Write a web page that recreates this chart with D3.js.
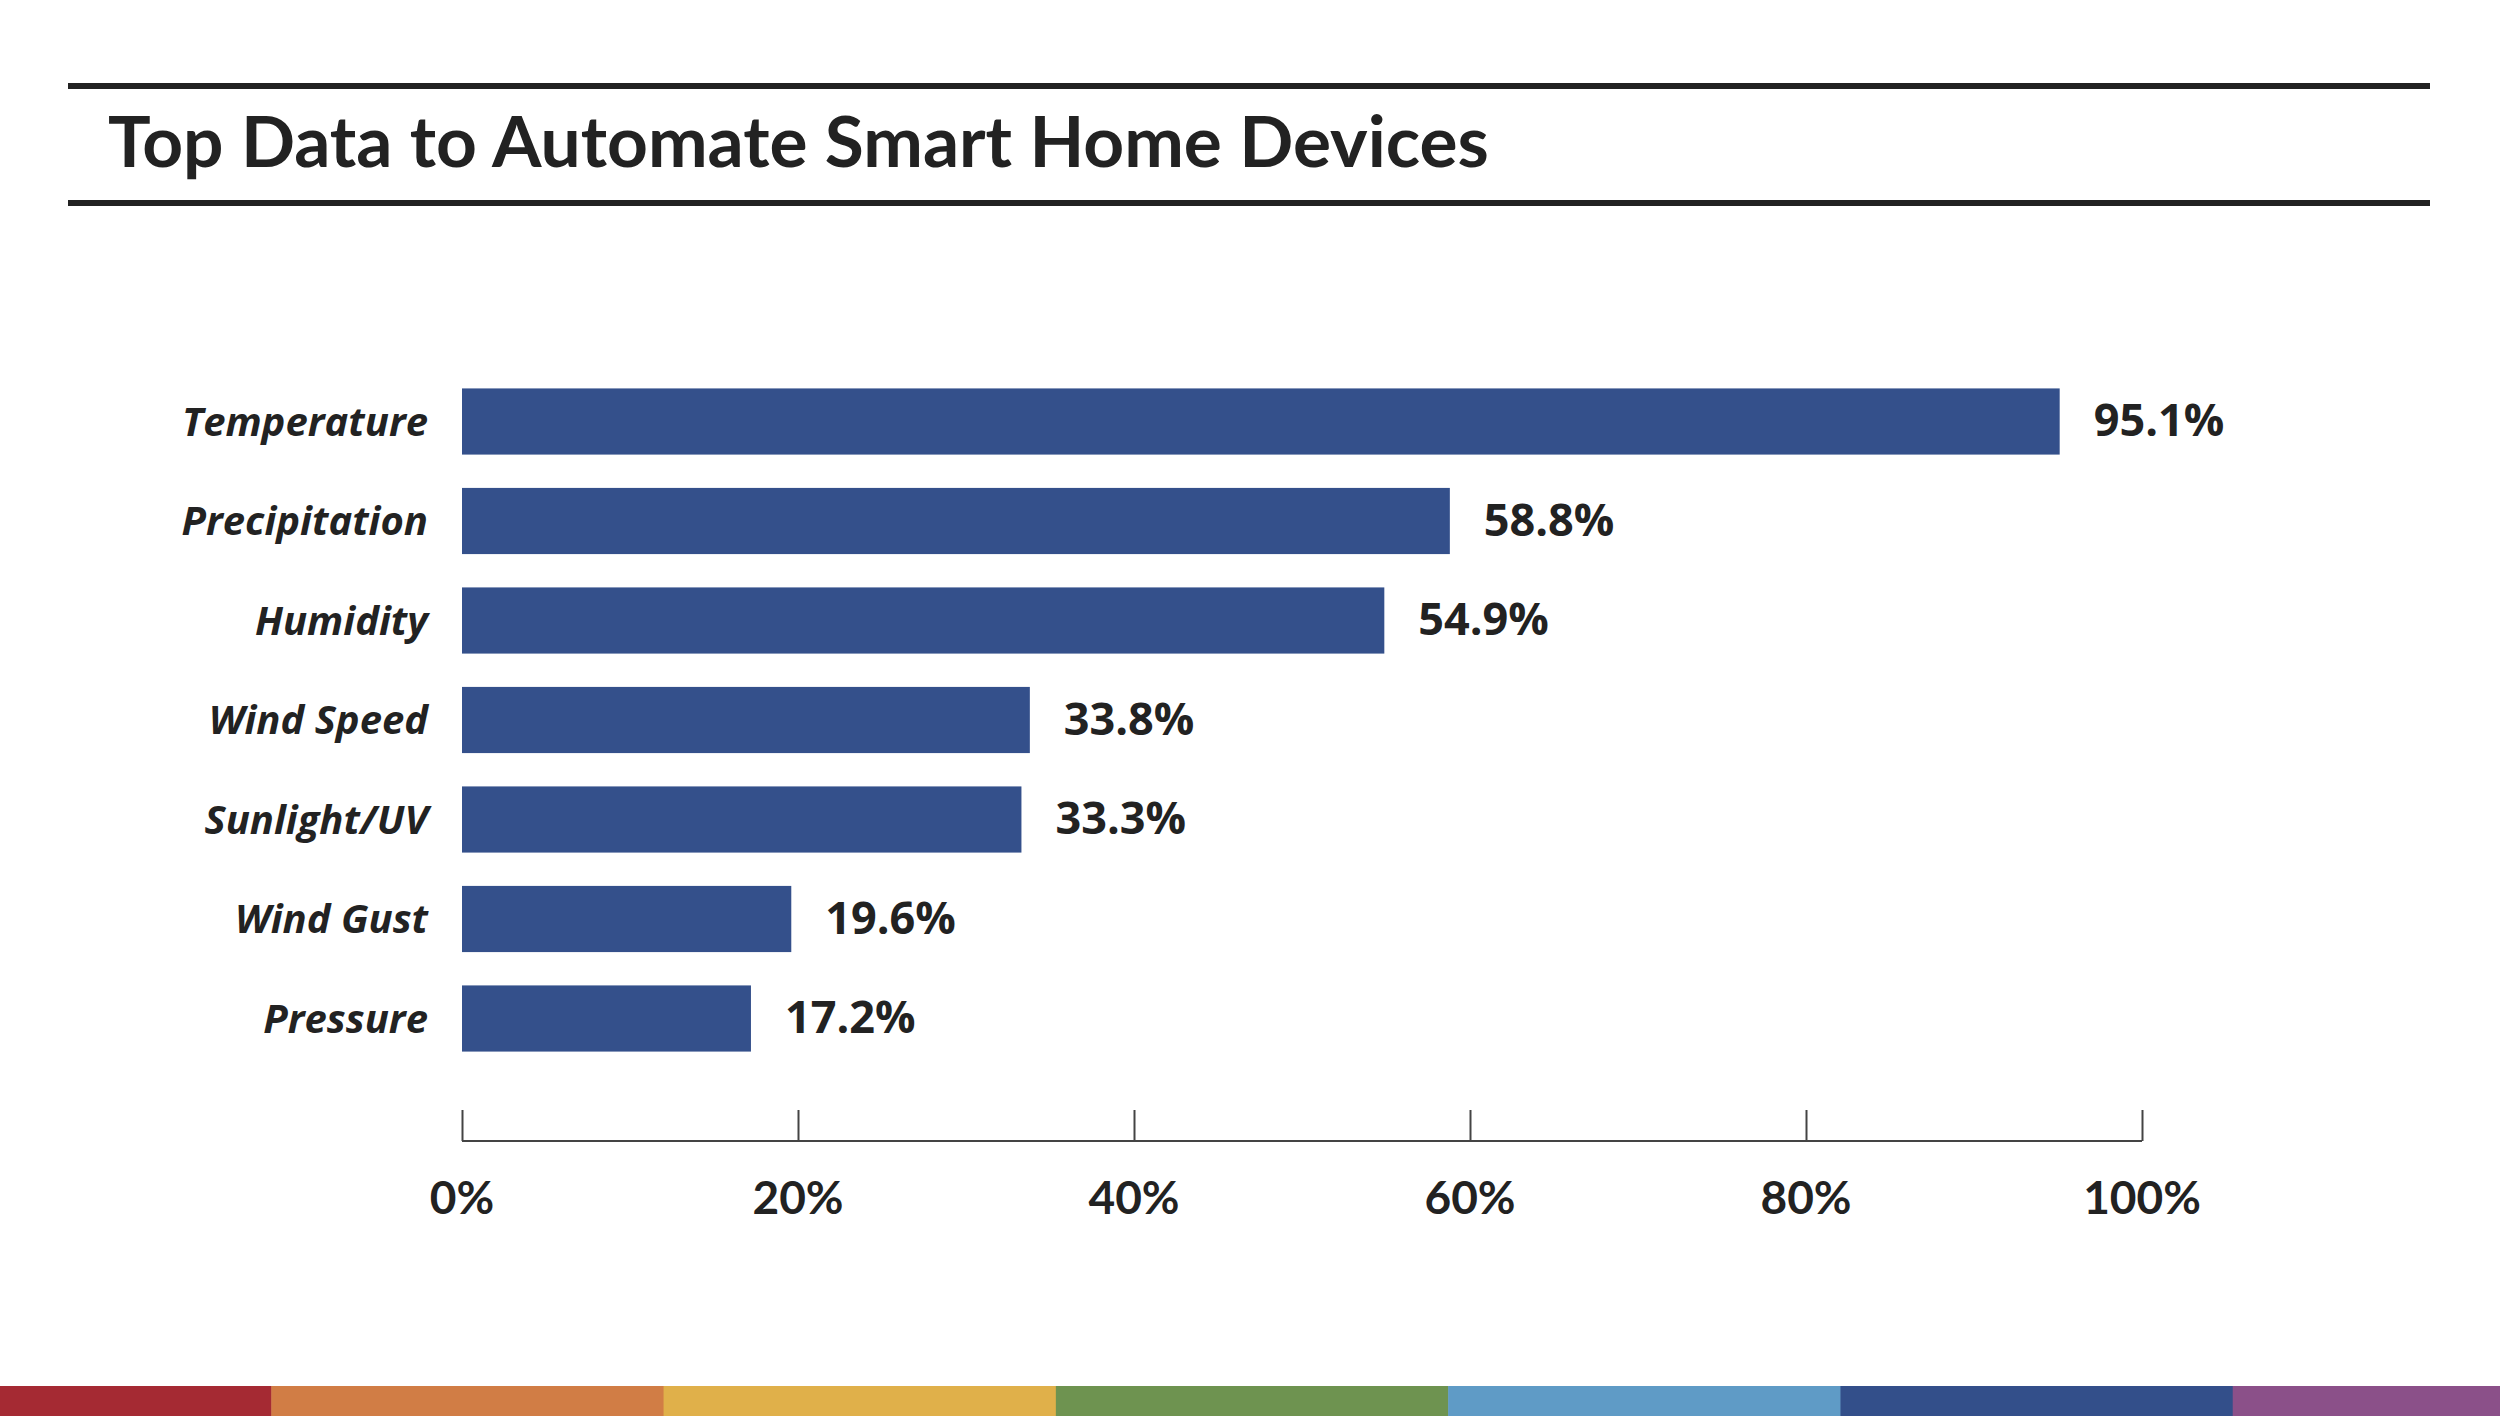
<!DOCTYPE html>
<html><head><meta charset="utf-8">
<script src="https://cdnjs.cloudflare.com/ajax/libs/d3/7.8.5/d3.min.js"></script>
<style>html,body{margin:0;padding:0;background:#fff;}svg{display:block;}</style>
</head><body>
<svg id="chart" width="2500" height="1416"></svg>
<script>
const title = "Top Data to Automate Smart Home Devices";
const categories = ["Temperature","Precipitation","Humidity","Wind Speed","Sunlight/UV","Wind Gust","Pressure"];
const values = [95.1, 58.8, 54.9, 33.8, 33.3, 19.6, 17.2];
const tickValues = [0, 20, 40, 60, 80, 100];
const stripColors = ["#a52a33","#d17d45","#e0b04a","#6e9350","#5f9bc6","#334f8a","#8b5089"];

const W = 2500, H = 1416;
const svg = d3.select("#chart");
const ink = "#222222";

// header rules
svg.append("rect").attr("x",68).attr("y",83).attr("width",2362).attr("height",6).attr("fill",ink);
svg.append("rect").attr("x",68).attr("y",200).attr("width",2362).attr("height",6).attr("fill",ink);
const t = svg.append("text").attr("x",108).attr("y",167)
  .attr("font-family","Lato, 'Open Sans', sans-serif").attr("font-weight",700)
  .attr("font-size",63).attr("fill",ink).text(title);
const tw = t.node().getComputedTextLength();
t.attr("font-size", 63*1381/tw);

const x = d3.scaleLinear().domain([0,100]).range([462,2142]);
const y = d3.scaleBand().domain(categories).range([372, 1068]).paddingInner(0.335).paddingOuter(0.165);

const g = svg.append("g");
g.selectAll("rect.bar").data(categories).join("rect").attr("class","bar")
  .attr("x", x(0)).attr("y", d=>y(d)).attr("height", y.bandwidth())
  .attr("width", (d,i)=>x(values[i])-x(0)).attr("fill","#34508b");

g.selectAll("text.cat").data(categories).join("text").attr("class","cat")
  .attr("x", 428).attr("y", d=>y(d)+y.bandwidth()/2).attr("dy","0.36em")
  .attr("text-anchor","end").attr("font-family","'Open Sans', sans-serif")
  .attr("font-style","italic").attr("font-weight",700).attr("font-size",40)
  .attr("fill",ink).text(d=>d);

g.selectAll("text.val").data(categories).join("text").attr("class","val")
  .attr("x", (d,i)=>x(values[i])+34).attr("y", d=>y(d)+y.bandwidth()/2).attr("dy","0.33em")
  .attr("font-family","'Open Sans', sans-serif").attr("font-weight",700).attr("font-size",45)
  .attr("fill",ink).text((d,i)=>d3.format(".1f")(values[i])+"%");

// axis
const axis = d3.axisTop(x).tickValues(tickValues).tickSize(31).tickFormat("");
const ax = svg.append("g").attr("transform","translate(0,1141)").call(axis);
ax.select(".domain").attr("d", `M${x(0)},0H${x(100)}`).attr("stroke","#444").attr("stroke-width",2);
ax.selectAll(".tick line").attr("stroke","#444").attr("stroke-width",2);

svg.selectAll("text.tick").data(tickValues).join("text").attr("class","tick")
  .attr("x", d=>x(d)).attr("y", 1214).attr("text-anchor","middle")
  .attr("font-family","Lato, sans-serif").attr("font-weight",700).attr("font-size",46)
  .attr("fill",ink).text(d=>d+"%");

// bottom color strip
const sx = d3.scaleLinear().domain([0,7]).range([-121, 2625]);
svg.selectAll("rect.strip").data(stripColors).join("rect").attr("class","strip")
  .attr("x",(d,i)=>Math.max(0,sx(i))).attr("y",1386)
  .attr("width",(d,i)=>Math.min(W,sx(i+1))-Math.max(0,sx(i))+0.5).attr("height",30)
  .attr("fill",d=>d);
</script>
</body></html>
